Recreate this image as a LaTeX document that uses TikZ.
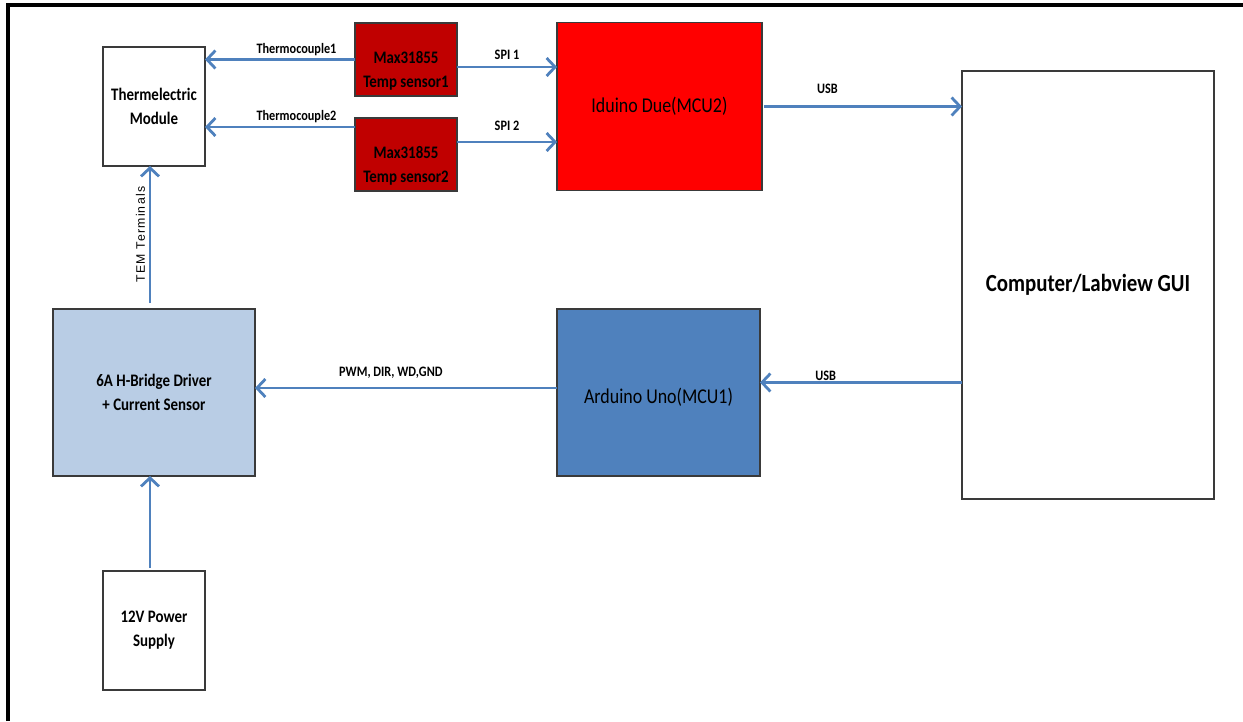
\documentclass[tikz,border=0pt]{standalone}
\usepackage{fontspec}
\setmainfont{Carlito}[FakeStretch=0.85]
\newfontfamily\temfont{Liberation Sans}[LetterSpace=10]
\usetikzlibrary{arrows.meta}
\definecolor{arrowblue}{HTML}{4F81BD}
\definecolor{sensred}{HTML}{C00000}
\definecolor{duered}{HTML}{FF0000}
\definecolor{unoblue}{HTML}{4F81BD}
\definecolor{hbblue}{HTML}{B9CDE5}
\definecolor{boxgray}{HTML}{3A3A3A}
\begin{document}
\begin{tikzpicture}[x=0.02cm,y=-0.02cm,
  blk/.style={draw=boxgray, line width=0.9pt, inner sep=0pt, outer sep=0pt},
  conn/.style={draw=arrowblue, line width=1.6pt, -{Straight Barb[length=1.7mm,width=3.6mm]}},
  lbl/.style={font=\bfseries\fontsize{8.2}{10}\selectfont, inner sep=1.5pt},
  smalltxt/.style={font=\bfseries\fontsize{10}{13.7}\selectfont, align=center}
]
\useasboundingbox (0,0) rectangle (1243,721);
\draw[line width=2.2pt] (8,721) -- (8,5) -- (1243,5);

\node[blk, fill=white, minimum width=2.04cm, minimum height=2.38cm, smalltxt] (tem) at (154,106.5) {Thermelectric\\Module};
\node[blk, fill=sensred, minimum width=2.04cm, minimum height=1.46cm,
  label={[smalltxt, yshift=-0.23cm]center:Max31855\\Temp sensor1}] (s1) at (406,59.5) {};
\node[blk, fill=sensred, minimum width=2.04cm, minimum height=1.46cm,
  label={[smalltxt, yshift=-0.23cm]center:Max31855\\Temp sensor2}] (s2) at (406,154.5) {};
\node[blk, fill=duered, minimum width=4.1cm, minimum height=3.36cm, font=\fontsize{12}{14}\selectfont] (due) at (659.5,106.5) {Iduino Due(MCU2)};
\node[blk, fill=white, minimum width=5.04cm, minimum height=8.56cm, font=\bfseries\fontsize{14}{16}\selectfont] (pc) at (1088,285) {Computer/Labview GUI};
\node[blk, fill=hbblue, minimum width=4.04cm, minimum height=3.34cm, smalltxt] (hb) at (154,392.5) {6A H-Bridge Driver\\+ Current Sensor};
\node[blk, fill=unoblue, minimum width=4.06cm, minimum height=3.34cm,
  label={[font=\fontsize{12}{14}\selectfont, yshift=-0.09cm]center:Arduino Uno(MCU1)}] (uno) at (658.5,392.5) {};
\node[blk, fill=white, minimum width=2.04cm, minimum height=2.38cm, smalltxt] (ps) at (154,630.5) {12V Power\\Supply};

\coordinate (t2) at ([yshift=0.55cm]s2.west);
\coordinate (p1) at ([yshift=-0.15cm]s1.east);
\coordinate (p2) at ([yshift=0.25cm]s2.east);
\coordinate (u2) at ([yshift=-1.95cm]pc.west);
\coordinate (w) at ([yshift=0.09cm]uno.west);
\coordinate (tt) at ([xshift=-0.08cm,yshift=0.12cm]hb.north);
\coordinate (pw) at ([xshift=-0.08cm,yshift=0.06cm]ps.north);

\draw[conn] (s1.west) -- (s1.west -| tem.east) node[lbl, pos=0.39, above] {Thermocouple1};
\draw[conn] (t2) -- (t2 -| tem.east) node[lbl, pos=0.39, above] {Thermocouple2};
\draw[conn] (p1) -- (p1 -| due.west) node[lbl, midway, above=2pt] {SPI 1};
\draw[conn] (p2) -- (p2 -| due.west) node[lbl, midway, above=4pt] {SPI 2};
\draw[conn] ([xshift=0.04cm]due.east) -- (due.east -| pc.west) node[lbl, pos=0.32, above=5pt] {USB};
\draw[conn] (u2) -- (u2 -| uno.east) node[lbl, pos=0.675, above=-1pt] {USB};
\draw[conn] (w) -- (w -| hb.east) node[lbl, pos=0.55, above=3pt] {PWM, DIR, WD,GND};
\draw[conn] (tt) -- (tt |- tem.south) node[midway, sloped, above, inner sep=2pt, font=\temfont\fontsize{7}{8}\selectfont] {TEM Terminals};
\draw[conn] (pw) -- (pw |- hb.south);
\end{tikzpicture}
\end{document}
